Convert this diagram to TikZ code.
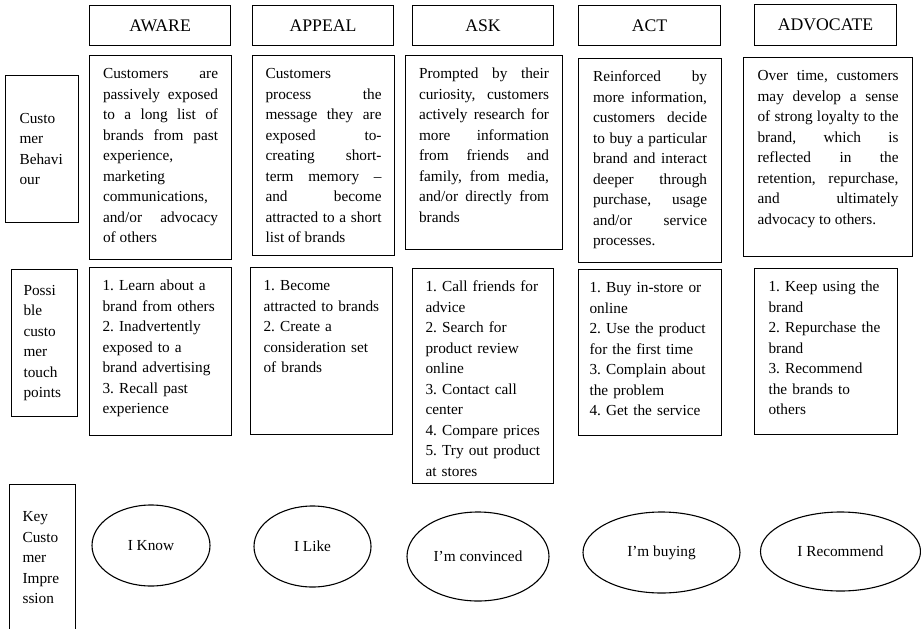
\documentclass[tikz,border=0pt]{standalone}
\usepackage{fontspec}
\setmainfont{Liberation Serif}
\usetikzlibrary{shapes.geometric}
\tolerance=10000
\hbadness=10000
\hyphenpenalty=10000
\frenchspacing

\newcommand{\cellfont}{\fontsize{15.3}{20.5}\selectfont}

\begin{document}
\begin{tikzpicture}[x=1pt,y=-1pt,
  box/.style={draw,line width=1.1pt,anchor=north west,inner sep=0pt},
  hdr/.style={box,font=\fontsize{17.7}{20}\selectfont},
  cell/.style={box,font=\cellfont,text height=23pt},
  just/.style={cell,align=justify},
  list/.style={cell,align=left},
  side/.style={box,font=\cellfont,align=left},
  imp/.style={draw,ellipse,line width=1.1pt,inner sep=0pt,font=\cellfont}]
\useasboundingbox (0,0) rectangle (921,629);

% Stage headers
\node[hdr,minimum width=141,minimum height=40] (H1) at (89,5) {AWARE};
\node[hdr,minimum width=141,minimum height=40] (H2) at (252,5) {APPEAL};
\node[hdr,minimum width=141,minimum height=40] (H3) at (412,5) {ASK};
\node[hdr,minimum width=142,minimum height=40] (H4) at (578,5) {ACT};
\node[hdr,minimum width=142,minimum height=41] (H5) at (754,4) {ADVOCATE};

% Row labels
\node[side,minimum width=73,minimum height=147,text width=45] (LB) at (5,75)
  {Custo\\mer\\Behavi\\our};
\node[side,minimum width=66,minimum height=147,text width=42] (LT) at (11,269)
  {Possi\\ble\\custo\\mer\\touch\\points};
\node[side,minimum width=66,minimum height=147,text width=40] (LK) at (9,484)
  {Key\\Custo\\mer\\Impre\\ssion};

% Customer behaviour
\node[just,minimum width=142,text width=115,text depth=181] (B1) at (89,55)
  {Customers are\linebreak
   passively exposed\linebreak
   to a long list of\linebreak
   brands from past\linebreak
   experience,\linebreak
   marketing\linebreak
   communications,\linebreak
   and/or advocacy\linebreak
   of others};
\node[just,minimum width=142,text width=116,text depth=177] (B2) at (252,55)
  {Customers\linebreak
   process the\linebreak
   message they are\linebreak
   exposed to-\linebreak
   creating short-\linebreak
   term memory –\linebreak
   and become\linebreak
   attracted to a short\linebreak
   list of brands};
\node[just,minimum width=157,text width=130,text depth=171] (B3) at (405,55)
  {Prompted by their\linebreak
   curiosity, customers\linebreak
   actively research for\linebreak
   more information\linebreak
   from friends and\linebreak
   family, from media,\linebreak
   and/or directly from\linebreak
   brands};
\node[just,minimum width=143,text width=114,text depth=181] (B4) at (578,58)
  {Reinforced by\linebreak
   more information,\linebreak
   customers decide\linebreak
   to buy a particular\linebreak
   brand and interact\linebreak
   deeper through\linebreak
   purchase, usage\linebreak
   and/or service\linebreak
   processes.};
\node[just,minimum width=169,text width=141,text depth=176] (B5) at (743,57)
  {Over time, customers\linebreak
   may develop a sense\linebreak
   of strong loyalty to the\linebreak
   brand, which is\linebreak
   reflected in the\linebreak
   retention, repurchase,\linebreak
   and ultimately\linebreak
   advocacy to others.};

% Possible customer touch points
\node[list,minimum width=142,text width=116,text depth=145] (T1) at (89,267)
  {1. Learn about a\\brand from others\\2. Inadvertently\\exposed to a\\brand advertising\\3. Recall past\\experience};
\node[list,minimum width=142,text width=116,text depth=144] (T2) at (250,267)
  {1. Become\\attracted to brands\\2. Create a\\consideration set\\of brands};
\node[list,minimum width=141,text width=115,text depth=192] (T3) at (412,268)
  {1. Call friends for\\advice\\2. Search for\\product review\\online\\3. Contact call\\center\\4. Compare prices\\5. Try out product\\at stores};
\node[list,minimum width=143,text width=121,text depth=143] (T4) at (578,269)
  {1. Buy in-store or\\online\\2. Use the product\\for the first time\\3. Complain about\\the problem\\4. Get the service};
\node[list,minimum width=143,text width=115,text depth=143] (T5) at (754,268)
  {1. Keep using the\\brand\\2. Repurchase the\\brand\\3. Recommend\\the brands to\\others};

% Key customer impression
\node[imp,minimum width=118,minimum height=81] (K1) at (151,545.5) {I Know};
\node[imp,minimum width=117,minimum height=81] (K2) at (312.5,546.5) {I Like};
\node[imp,minimum width=142,minimum height=89] (K3) at (478,556.5) {I’m convinced};
\node[imp,minimum width=157,minimum height=81] (K4) at (661.5,552.5) {I’m buying};
\node[imp,minimum width=160,minimum height=79] (K5) at (840.5,551.5) {I Recommend};

\end{tikzpicture}
\end{document}
